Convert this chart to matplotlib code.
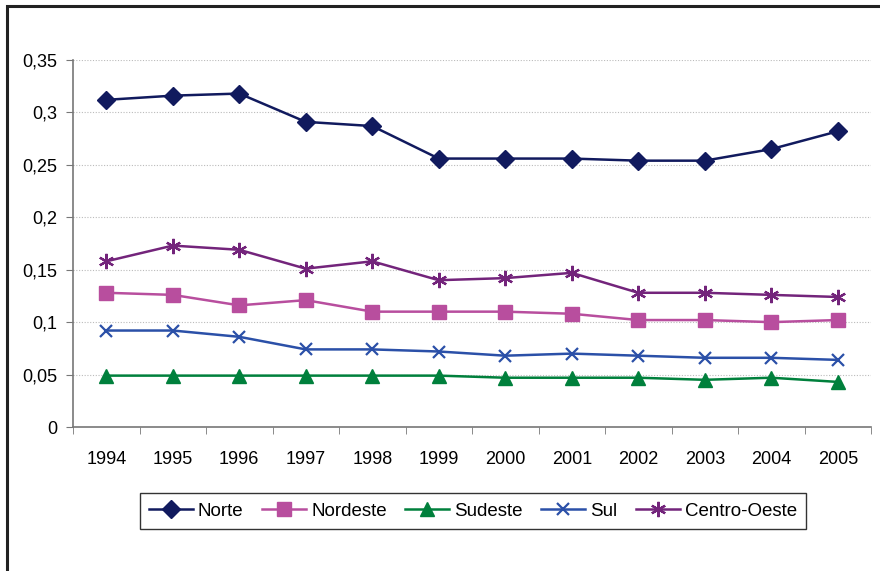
import numpy as np
import matplotlib.pyplot as plt
from matplotlib.patches import Rectangle

anos = ["1994", "1995", "1996", "1997", "1998", "1999",
        "2000", "2001", "2002", "2003", "2004", "2005"]

norte = [0.312, 0.316, 0.318, 0.291, 0.287, 0.256, 0.256, 0.256, 0.254, 0.254, 0.265, 0.282]
nordeste = [0.128, 0.126, 0.116, 0.121, 0.110, 0.110, 0.110, 0.108, 0.102, 0.102, 0.100, 0.102]
sudeste = [0.049, 0.049, 0.049, 0.049, 0.049, 0.049, 0.047, 0.047, 0.047, 0.045, 0.047, 0.043]
sul = [0.092, 0.092, 0.086, 0.074, 0.074, 0.072, 0.068, 0.070, 0.068, 0.066, 0.066, 0.064]
centro_oeste = [0.158, 0.173, 0.169, 0.151, 0.158, 0.140, 0.142, 0.147, 0.128, 0.128, 0.126, 0.124]

yticks = [0, 0.05, 0.1, 0.15, 0.2, 0.25, 0.3, 0.35]
ytick_labels = ["0", "0,05", "0,1", "0,15", "0,2", "0,25", "0,3", "0,35"]

plt.rcParams['font.family'] = ['Liberation Sans', 'DejaVu Sans']

fig = plt.figure(figsize=(8.8, 5.71), dpi=100)
ax = fig.add_axes([73 / 880, 1 - 427 / 571, 798 / 880, 367 / 571])

x = np.arange(len(anos))
series = [
    ("Norte", norte, "#111a5e", "D", 9, None),
    ("Nordeste", nordeste, "#b84e9e", "s", 10, None),
    ("Sudeste", sudeste, "#00803c", "^", 10, None),
    ("Sul", sul, "#2b50a8", "x", 9, 1.6),
    ("Centro-Oeste", centro_oeste, "#73247b", (6, 2, 0), 11, 1.6),
]
for nome, vals, cor, mk, ms, mew in series:
    kw = {}
    if mew is not None:
        kw["markeredgewidth"] = mew
    ax.plot(x, vals, color=cor, marker=mk, markersize=ms, linewidth=1.8,
            markerfacecolor=cor, markeredgecolor=cor, label=nome, **kw)

ax.set_xlim(-0.5, len(anos) - 0.5)
ax.set_ylim(0, 0.35)
ax.set_yticks(yticks)
ax.set_yticklabels(ytick_labels, fontsize=13)
ax.set_xticks(x)
ax.set_xticklabels(anos, fontsize=13)
ax.set_xticks(np.arange(-0.5, len(anos)), minor=True)
ax.tick_params(axis="x", which="major", length=0, pad=17)
ax.tick_params(axis="x", which="minor", length=5, color="#777777")
ax.tick_params(axis="y", length=5, color="#777777", pad=6)

ax.yaxis.grid(True, linestyle=(0, (1, 1.5)), color="#bbbbbb", linewidth=0.8)
ax.set_axisbelow(True)
for lado in ["top", "right"]:
    ax.spines[lado].set_visible(False)
ax.spines["left"].set_color("#777777")
ax.spines["bottom"].set_color("#777777")
ax.spines["left"].set_linewidth(1.2)
ax.spines["bottom"].set_linewidth(1.2)

leg = fig.legend(loc="center", bbox_to_anchor=(473 / 880, 1 - 511 / 571), ncol=5,
                 fontsize=13.5, frameon=True, fancybox=False, edgecolor="black",
                 handlelength=2.35, handletextpad=0.25, columnspacing=1.0,
                 borderpad=0.5)
leg.get_frame().set_linewidth(1.0)

# moldura externa do grafico
fig.patches.append(Rectangle((7 / 880, -0.1), 1.0, 1 - 6 / 571 + 0.1,
                             transform=fig.transFigure, fill=False,
                             edgecolor="#222222", linewidth=2.2))

fig.savefig("out.png", dpi=100)
